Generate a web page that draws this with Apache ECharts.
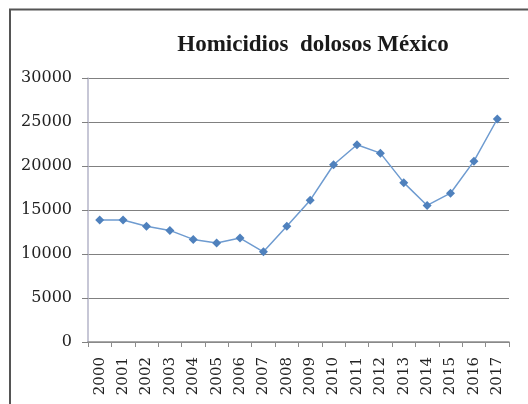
<!DOCTYPE html>
<html>
<head>
<meta charset="utf-8">
<script src="https://cdn.jsdelivr.net/npm/echarts@6/dist/echarts.min.js"></script>
<style>
  html, body { margin: 0; padding: 0; background: #fff; }
  #chart { width: 528px; height: 404px; }
</style>
</head>
<body>
<div id="chart"></div>
<script>
// Intentional homicides per year
const years = ['2000','2001','2002','2003','2004','2005','2006','2007','2008',
               '2009','2010','2011','2012','2013','2014','2015','2016','2017'];
const homicidios = [13850, 13855, 13150, 12680, 11660, 11250, 11810, 10250, 13155,
                    16120, 20140, 22410, 21460, 18110, 15520, 16910, 20550, 25340];
const titleText = 'Homicidios  dolosos México';

const chart = echarts.init(document.getElementById('chart'), null, { renderer: 'canvas' });

const serif = '"Liberation Serif", "DejaVu Serif", serif';
const wideSerif = '"DejaVu Serif", "Liberation Serif", serif';

chart.setOption({
  animation: false,
  backgroundColor: '#ffffff',
  title: {
    text: titleText,
    left: 308,
    top: 29,
    textAlign: 'center',
    textStyle: { fontFamily: serif, fontWeight: 'bold', fontSize: 23, color: '#1a1a1a' }
  },
  graphic: [
    {
      type: 'polyline',
      shape: { points: [[10, 404], [10, 9.5], [528, 9.5]] },
      style: { stroke: '#555', lineWidth: 2, fill: null },
      silent: true
    }
  ],
  grid: { left: 88, right: 19, top: 78, bottom: 62 },
  xAxis: {
    type: 'category',
    data: years,
    boundaryGap: true,
    axisLine: { lineStyle: { color: '#8c8c8c', width: 1.5 } },
    axisTick: { show: true, length: 5, alignWithLabel: false, lineStyle: { color: '#8c8c8c' } },
    axisLabel: {
      rotate: 90,
      margin: 15,
      fontFamily: wideSerif,
      fontSize: 15,
      color: '#222'
    }
  },
  yAxis: {
    type: 'value',
    min: 0,
    max: 30000,
    interval: 5000,
    axisLine: { show: true, lineStyle: { color: '#b4b4c8', width: 1.5 } },
    axisTick: { show: true, length: 6, lineStyle: { color: '#808080' } },
    axisLabel: {
      margin: 16,
      fontFamily: wideSerif,
      fontSize: 16,
      color: '#222',
      formatter: v => String(v)
    },
    splitLine: { show: true, lineStyle: { color: '#808080', width: 1.2 } }
  },
  series: [
    {
      type: 'line',
      data: homicidios,
      symbol: 'diamond',
      symbolSize: 9,
      lineStyle: { color: '#6e9bd0', width: 1.5 },
      itemStyle: { color: '#4f81bd' }
    }
  ]
});
</script>
</body>
</html>
